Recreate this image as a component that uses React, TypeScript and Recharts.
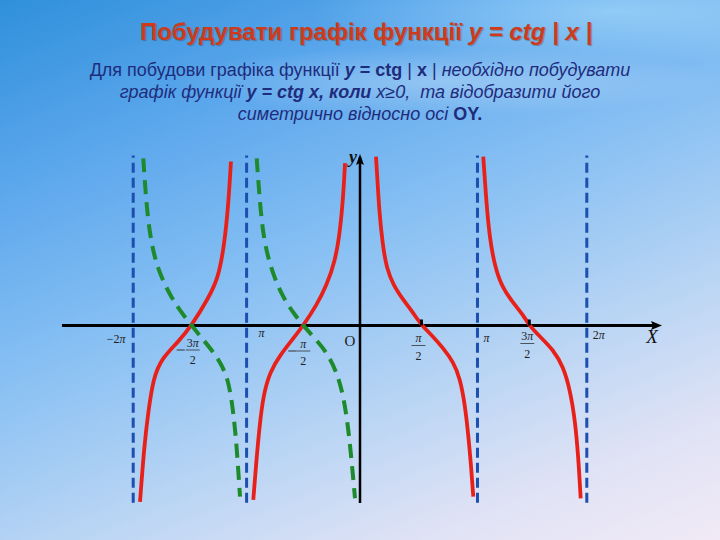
import React from 'react';
import { ComposedChart, Line, XAxis, YAxis, ReferenceLine, ReferenceDot } from 'recharts';

// x in units of π, y in picture units
const redAx = [0.141, 0.153, 0.17, 0.2, 0.235, 0.294, 0.382, 0.47, 0.544, 0.633, 0.735, 0.823, 0.882, 0.926, 0.955, 0.979, 0.999];
const redAy = [4.22, 3.68, 2.85, 2.01, 1.43, 1.01, 0.64, 0.31, 0, -0.24, -0.57, -0.91, -1.32, -1.99, -2.74, -3.49, -4.28];

const redBx = [1.087, 1.117, 1.146, 1.19, 1.25, 1.352, 1.44, 1.493, 1.587, 1.705, 1.793, 1.852, 1.896, 1.925, 1.946];
const redBy = [4.22, 2.97, 2.14, 1.47, 0.97, 0.56, 0.26, 0, -0.28, -0.61, -1.03, -1.61, -2.36, -3.28, -4.32];

const redCx = [-0.941, -0.917, -0.888, -0.853, -0.794, -0.705, -0.588, -0.5, -0.382, -0.294, -0.22, -0.176, -0.147, -0.132];
const redCy = [-4.36, -3.49, -2.57, -1.74, -1.16, -0.74, -0.32, 0, 0.51, 1.01, 1.6, 2.35, 3.26, 4.06];

const redEx = [-1.94, -1.902, -1.867, -1.823, -1.749, -1.602, -1.484, -1.338, -1.25, -1.197, -1.161, -1.138];
const redEy = [-4.41, -2.99, -2.16, -1.32, -0.82, -0.41, 0, 0.68, 1.18, 2.01, 3.01, 4.1];

const greenDx = [-0.911, -0.888, -0.853, -0.779, -0.676, -0.573, -0.5, -0.412, -0.294, -0.206, -0.147, -0.103, -0.073, -0.044];
const greenDy = [4.18, 3.26, 2.18, 1.35, 0.68, 0.26, 0, -0.28, -0.66, -1.16, -1.74, -2.57, -3.41, -4.32];

const greenFx = [-1.911, -1.89, -1.852, -1.779, -1.661, -1.558, -1.484, -1.367, -1.25, -1.161, -1.117, -1.088, -1.058];
const greenFy = [4.18, 3.26, 2.18, 1.35, 0.68, 0.26, 0, -0.41, -0.82, -1.32, -2.16, -2.99, -4.28];

const asymptotes = [-2, -1, 1.036, 2];
const asymTop = 4.25;
const asymBottom = -4.43;

const xAxisStart = -2.628;
const xAxisEnd = 2.61;
const yAxisBottom = -4.44;
const yAxisTop = 4.21;

const tickValues = [-2, -1.484, -1, -0.5, 0, 0.542, 1.036, 1.493, 2];
const tickLabels = ['−2π', '−3π/2', 'π', '−π/2', 'O', 'π/2', 'π', '3π/2', '2π'];
const tickMarks = [0.542, 1.493];

const zip = (xs: number[], ys: number[]) => xs.map((x, i) => ({ x, y: ys[i] }));

const series = [
  { key: 'redE', data: zip(redEx, redEy), color: '#e8201a', dash: undefined },
  { key: 'redC', data: zip(redCx, redCy), color: '#e8201a', dash: undefined },
  { key: 'redA', data: zip(redAx, redAy), color: '#e8201a', dash: undefined },
  { key: 'redB', data: zip(redBx, redBy), color: '#e8201a', dash: undefined },
  { key: 'greenF', data: zip(greenFx, greenFy), color: '#1d8a2c', dash: '14 8' },
  { key: 'greenD', data: zip(greenDx, greenDy), color: '#1d8a2c', dash: '14 8' },
];

// label layout (pixel offsets from the tick point on the axis)
const labelLayout: Record<number, { dx: number; num: number; den: number; minusDx: number }> = {
  0: { dx: -17, num: 17, den: 0, minusDx: 0 },
  1: { dx: 1, num: 21, den: 38, minusDx: -11 },
  2: { dx: 15, num: 11, den: 0, minusDx: 0 },
  3: { dx: 0, num: 22, den: 39, minusDx: -10 },
  4: { dx: -10, num: 20, den: 0, minusDx: 0 },
  5: { dx: -3, num: 16, den: 34, minusDx: 0 },
  6: { dx: 9, num: 16, den: 0, minusDx: 0 },
  7: { dx: -2, num: 14, den: 32, minusDx: 0 },
  8: { dx: 12, num: 13, den: 0, minusDx: 0 },
};

const serif = '"Liberation Serif", "DejaVu Serif", serif';

const renderTickLabel = (idx: number) => (p: any) => {
  const { cx, cy } = p;
  const label = tickLabels[idx];
  const lay = labelLayout[idx];
  const x = cx + lay.dx;
  if (label === 'O') {
    return (
      <text x={x} y={cy + lay.num} textAnchor="middle" fontFamily={serif} fontSize={15} fill="#1a1a1a">
        O
      </text>
    );
  }
  if (label.includes('/')) {
    const neg = label.startsWith('−');
    const [n, d] = label.replace('−', '').split('/');
    const barY = (cy + lay.num + cy + lay.den) / 2 - 5;
    return (
      <g>
        {neg && (
          <line x1={x + lay.minusDx - 5} x2={x + lay.minusDx + 3} y1={barY} y2={barY} stroke="#333" strokeWidth={1} />
        )}
        <text x={x} y={cy + lay.num} textAnchor="middle" fontFamily={serif} fontSize={12} fill="#222">
          {n.replace('π', '')}
          <tspan fontStyle="italic">π</tspan>
        </text>
        <line x1={x - 7} x2={x + 7} y1={barY} y2={barY} stroke="#333" strokeWidth={0.8} />
        <text x={x} y={cy + lay.den} textAnchor="middle" fontFamily={serif} fontSize={12} fill="#222">
          {d}
        </text>
      </g>
    );
  }
  const pre = label.replace('π', '');
  return (
    <text x={x} y={cy + lay.num} textAnchor="middle" fontFamily={serif} fontSize={12} fill="#222">
      {pre}
      <tspan fontStyle="italic">π</tspan>
    </text>
  );
};

const xArrow = (p: any) => (
  <g>
    <path d={`M${p.cx + 6},${p.cy} L${p.cx - 5},${p.cy - 4.5} L${p.cx - 3},${p.cy} L${p.cx - 5},${p.cy + 4.5} Z`} fill="#000" />
    <text x={p.cx - 4} y={p.cy + 17} textAnchor="middle" fontFamily={serif} fontStyle="italic" fontSize={19} fill="#111">
      X
    </text>
  </g>
);

const yArrow = (p: any) => (
  <g>
    <path d={`M${p.cx},${p.cy - 3} L${p.cx - 4},${p.cy + 8} L${p.cx},${p.cy + 6} L${p.cx + 4},${p.cy + 8} Z`} fill="#000" />
    <text x={p.cx - 7} y={p.cy + 6} textAnchor="middle" fontFamily={serif} fontWeight="bold" fontStyle="italic" fontSize={18} fill="#111">
      y
    </text>
  </g>
);

const tickMarkShape = (p: any) => (
  <line x1={p.cx} x2={p.cx} y1={p.cy - 6} y2={p.cy} stroke="#000" strokeWidth={3} />
);

export default function App() {
  return (
    <div
      style={{
        position: 'fixed',
        left: 0,
        top: 0,
        width: 720,
        height: 540,
        overflow: 'hidden',
        background:
          'radial-gradient(ellipse 55% 9% at 62% 15%, rgba(255,255,255,0.28), rgba(255,255,255,0) 70%), radial-gradient(ellipse 60% 14% at 85% 2%, rgba(190,235,255,0.45), rgba(255,255,255,0) 70%), linear-gradient(158deg, #2f90da 0%, #5aa6ec 22%, #86bff3 45%, #b9d5f4 68%, #dfe2f5 85%, #f1eaf6 100%)',
      }}
    >
      <div
        style={{
          position: 'absolute',
          top: 17,
          left: 6,
          width: 720,
          textAlign: 'center',
          fontFamily: '"Liberation Sans", Arial, sans-serif',
          fontWeight: 'bold',
          fontSize: 24,
          lineHeight: '30px',
          color: '#cf3a1b',
          textShadow: '1px 1px 1px rgba(90,30,10,0.35)',
        }}
      >
        Побудувати графік функції <i>y = ctg | x |</i>
      </div>
      <div
        style={{
          position: 'absolute',
          top: 59,
          left: 0,
          width: 720,
          textAlign: 'center',
          fontFamily: '"Liberation Sans", Arial, sans-serif',
          fontSize: 18,
          lineHeight: '22px',
          color: '#1f2c7c',
        }}
      >
        <div>
          Для побудови графіка функції <b><i>y</i> = ctg</b> | <b>x</b> | <i>необхідно побудувати</i>
        </div>
        <div>
          <i>
            графік функції <b>y = ctg x, коли</b> x≥0,&nbsp; та відобразити його
          </i>
        </div>
        <div>
          <i>симетрично відносно осі</i> <b>OY.</b>
        </div>
      </div>
      <div style={{ position: 'absolute', left: 0, top: 0 }}>
        <ComposedChart width={720} height={540} margin={{ top: 5.5, right: 0, bottom: 14.5, left: 0 }}>
          <XAxis type="number" dataKey="x" domain={[-3.1746, 3.1746]} hide allowDataOverflow />
          <YAxis type="number" dataKey="y" domain={[-5, 8]} hide allowDataOverflow />
          {asymptotes.map((a) => (
            <ReferenceLine
              key={'as' + a}
              segment={[
                { x: a, y: asymBottom },
                { x: a, y: asymTop },
              ]}
              stroke="#1c4fb0"
              strokeWidth={3}
              strokeDasharray="10 5"
              ifOverflow="visible"
            />
          ))}
          <ReferenceLine
            segment={[
              { x: xAxisStart, y: 0 },
              { x: xAxisEnd, y: 0 },
            ]}
            stroke="#000"
            strokeWidth={3}
            ifOverflow="visible"
          />
          <ReferenceLine
            segment={[
              { x: 0, y: yAxisBottom },
              { x: 0, y: yAxisTop },
            ]}
            stroke="#000"
            strokeWidth={2.5}
            ifOverflow="visible"
          />
          <ReferenceDot x={xAxisEnd} y={0} shape={xArrow} ifOverflow="visible" />
          <ReferenceDot x={0} y={yAxisTop} shape={yArrow} ifOverflow="visible" />
          {tickMarks.map((t) => (
            <ReferenceDot key={'tm' + t} x={t} y={0} shape={tickMarkShape} ifOverflow="visible" />
          ))}
          {tickValues.map((t, i) => (
            <ReferenceDot key={'tl' + i} x={t} y={0} shape={renderTickLabel(i)} ifOverflow="visible" />
          ))}
          {series.map((s) => (
            <Line
              key={s.key}
              data={s.data}
              dataKey="y"
              type="basis"
              stroke={s.color}
              strokeWidth={s.dash ? 4 : 3.8}
              strokeDasharray={s.dash}
              dot={false}
              activeDot={false}
              isAnimationActive={false}
            />
          ))}
        </ComposedChart>
      </div>
    </div>
  );
}
